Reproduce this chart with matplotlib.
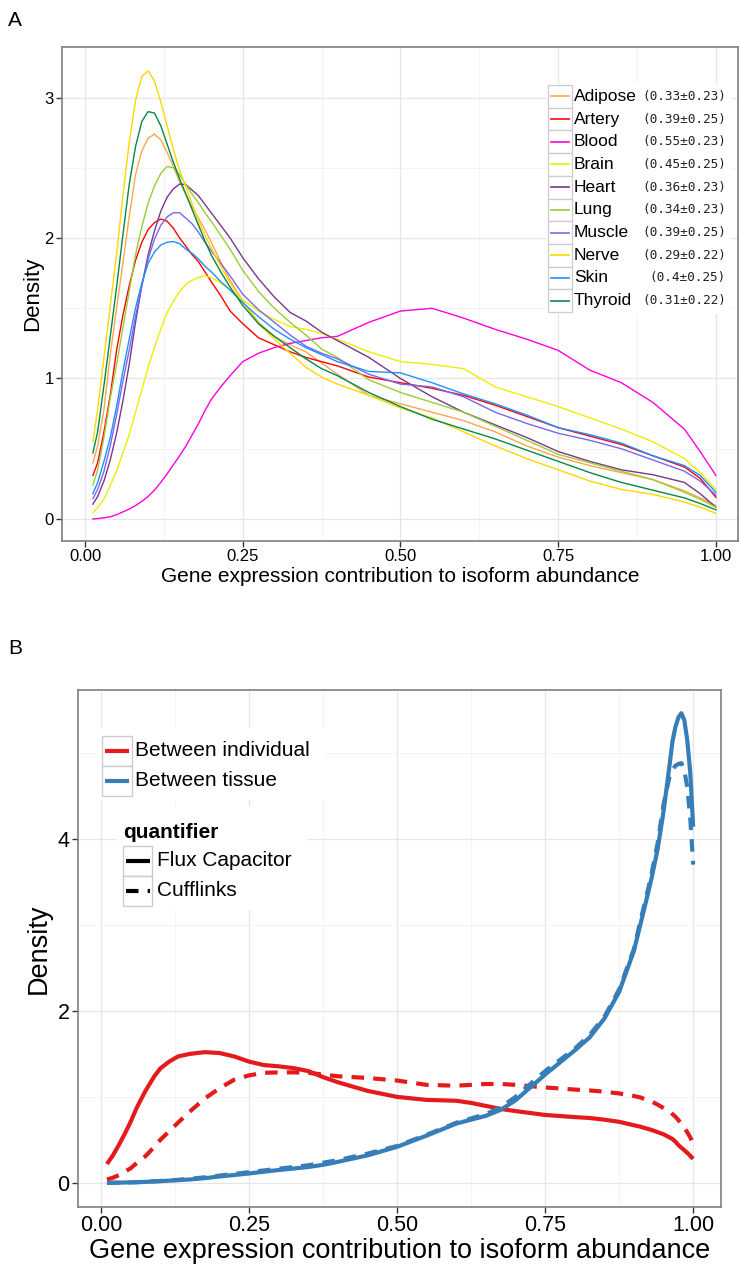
import numpy as np
import matplotlib
matplotlib.use('Agg')
import matplotlib.pyplot as plt
from matplotlib.patches import Rectangle
from matplotlib.lines import Line2D

plt.rcParams['font.family'] = ['Liberation Sans', 'DejaVu Sans']

W, H = 740, 1266

# ---- panel A: density of gene expression contribution per tissue ----
tissues = ['Adipose', 'Artery', 'Blood', 'Brain', 'Heart',
           'Lung', 'Muscle', 'Nerve', 'Skin', 'Thyroid']
tissue_colors = ['#FFA54F', '#FF0000', '#FF00DD', '#EEEE00', '#7A378B',
                 '#9ACD32', '#7A67EE', '#FFD700', '#1E90FF', '#008B45']
stats = ['(0.33±0.23)', '(0.39±0.25)', '(0.55±0.23)', '(0.45±0.25)',
         '(0.36±0.23)', '(0.34±0.23)', '(0.39±0.25)', '(0.29±0.22)',
         '(0.4±0.25)', '(0.31±0.22)']

x_a = np.array([0.0125, 0.02, 0.03, 0.04, 0.05, 0.06, 0.07, 0.08, 0.09, 0.1,
                0.11, 0.12, 0.13, 0.14, 0.15, 0.16, 0.17, 0.18, 0.19, 0.2,
                0.215, 0.23, 0.25, 0.275, 0.3, 0.325, 0.35, 0.375, 0.4, 0.45,
                0.5, 0.55, 0.6, 0.65, 0.7, 0.75, 0.8, 0.85, 0.9, 0.95,
                0.975, 1.0])

adipose = [.40, .52, .78, 1.17, 1.50, 1.82, 2.15, 2.45, 2.62, 2.71,
           2.74, 2.70, 2.61, 2.51, 2.40, 2.31, 2.22, 2.14, 2.06, 1.97,
           1.83, 1.70, 1.55, 1.40, 1.30, 1.24, 1.19, 1.11, 1.03, .88,
           .82, .76, .70, .62, .52, .44, .38, .33, .28, .20,
           .15, .095]
artery = [.31, .40, .62, .88, 1.20, 1.45, 1.66, 1.84, 1.97, 2.06,
          2.11, 2.135, 2.12, 2.07, 2.0, 1.94, 1.88, 1.83, 1.76, 1.69,
          1.59, 1.48, 1.39, 1.29, 1.24, 1.19, 1.15, 1.12, 1.09, 1.01,
          .97, .93, .88, .81, .73, .65, .59, .53, .45, .37,
          .29, .154]
blood = [0.0, .003, .008, .015, .03, .05, .07, .095, .125, .16,
         .205, .26, .32, .385, .45, .52, .60, .68, .77, .85,
         .94, 1.02, 1.12, 1.18, 1.22, 1.25, 1.27, 1.29, 1.30, 1.40,
         1.48, 1.50, 1.43, 1.35, 1.28, 1.20, 1.06, .97, .83, .64,
         .48, .31]
brain = [.045, .08, .14, .24, .34, .47, .60, .76, .92, 1.08,
         1.22, 1.35, 1.47, 1.55, 1.62, 1.67, 1.70, 1.72, 1.73, 1.72,
         1.68, 1.63, 1.56, 1.48, 1.42, 1.37, 1.35, 1.32, 1.28, 1.19,
         1.12, 1.10, 1.07, .94, .87, .80, .72, .64, .55, .43,
         .33, .21]
heart = [.105, .16, .27, .42, .61, .84, 1.10, 1.40, 1.66, 1.88,
         2.05, 2.19, 2.29, 2.35, 2.385, 2.38, 2.34, 2.30, 2.24, 2.18,
         2.09, 2.0, 1.86, 1.71, 1.58, 1.47, 1.41, 1.33, 1.27, 1.15,
         1.0, .87, .76, .67, .58, .48, .41, .35, .315, .26,
         .18, .083]
lung = [.24, .35, .58, .86, 1.10, 1.36, 1.62, 1.88, 2.08, 2.25,
        2.37, 2.46, 2.51, 2.50, 2.45, 2.38, 2.31, 2.25, 2.18, 2.12,
        2.02, 1.92, 1.77, 1.62, 1.50, 1.40, 1.31, 1.21, 1.15, .99,
        .90, .83, .76, .66, .56, .46, .40, .34, .28, .19,
        .14, .083]
muscle = [.145, .21, .34, .52, .74, .98, 1.20, 1.44, 1.66, 1.85,
          1.99, 2.09, 2.15, 2.18, 2.18, 2.14, 2.10, 2.04, 1.97, 1.91,
          1.82, 1.73, 1.60, 1.49, 1.40, 1.31, 1.23, 1.18, 1.14, 1.03,
          .96, .94, .87, .76, .68, .61, .56, .50, .42, .34,
          .27, .17]
nerve = [.55, .78, 1.15, 1.52, 1.88, 2.30, 2.68, 2.98, 3.15, 3.19,
         3.12, 2.97, 2.80, 2.63, 2.48, 2.36, 2.24, 2.12, 2.02, 1.93,
         1.80, 1.68, 1.55, 1.39, 1.28, 1.18, 1.08, 1.01, .96, .88,
         .79, .72, .62, .52, .43, .35, .27, .21, .175, .12,
         .085, .04]
skin = [.18, .26, .41, .58, .80, 1.05, 1.28, 1.50, 1.68, 1.82,
        1.90, 1.95, 1.97, 1.975, 1.96, 1.92, 1.89, 1.85, 1.80, 1.76,
        1.69, 1.63, 1.54, 1.44, 1.35, 1.28, 1.22, 1.17, 1.12, 1.05,
        1.04, .97, .89, .82, .74, .65, .60, .54, .45, .38,
        .31, .19]
thyroid = [.47, .62, .95, 1.30, 1.65, 2.02, 2.38, 2.65, 2.83, 2.90,
           2.89, 2.80, 2.67, 2.54, 2.42, 2.31, 2.20, 2.09, 1.98, 1.88,
           1.76, 1.65, 1.52, 1.39, 1.30, 1.22, 1.14, 1.07, 1.02, .90,
           .80, .71, .64, .57, .49, .41, .33, .26, .205, .15,
           .11, .065]

# ---- panel B: between individual vs between tissue ----
x_b = np.array([0.01, 0.02, 0.03, 0.04, 0.05, 0.06, 0.075, 0.09, 0.1, 0.115,
                0.13, 0.15, 0.175, 0.2, 0.225, 0.25, 0.275, 0.3, 0.325, 0.35,
                0.375, 0.4, 0.45, 0.5, 0.55, 0.6, 0.625, 0.65, 0.675, 0.7,
                0.75, 0.8, 0.825, 0.85, 0.875, 0.9, 0.91, 0.92, 0.93, 0.94,
                0.95, 0.96, 0.965, 0.97, 0.975, 0.98, 0.985, 0.99, 0.995, 1.0])
indiv_flux = [.22, .32, .44, .57, .71, .87, 1.07, 1.24, 1.33, 1.41,
              1.47, 1.50, 1.52, 1.51, 1.47, 1.41, 1.37, 1.355, 1.335, 1.30,
              1.23, 1.17, 1.07, 1.0, .965, .955, .93, .895, .86, .835,
              .79, .765, .755, .735, .71, .67, .655, .635, .615, .59,
              .565, .53, .51, .48, .44, .41, .38, .35, .315, .28]
indiv_cuff = [.04, .06, .09, .13, .17, .23, .31, .42, .50, .60,
              .70, .83, .98, 1.10, 1.20, 1.25, 1.28, 1.285, 1.285, 1.28,
              1.26, 1.24, 1.22, 1.19, 1.14, 1.13, 1.14, 1.15, 1.15, 1.14,
              1.11, 1.085, 1.075, 1.06, 1.04, 1.01, .995, .97, .945, .91,
              .87, .83, .80, .77, .73, .69, .64, .59, .53, .46]
tissue_flux = [0.0, .002, .003, .005, .006, .008, .012, .017, .02, .026,
               .032, .04, .055, .075, .092, .11, .13, .15, .167, .185,
               .21, .245, .32, .42, .55, .69, .735, .78, .85, .96,
               1.26, 1.54, 1.69, 1.91, 2.22, 2.70, 2.98, 3.26, 3.55, 3.88,
               4.32, 4.85, 5.13, 5.30, 5.41, 5.46, 5.38, 5.15, 4.78, 4.14]
tissue_cuff = [0.0, .002, .003, .005, .007, .009, .014, .019, .023, .03,
               .036, .048, .065, .085, .105, .125, .145, .165, .185, .205,
               .235, .265, .34, .43, .56, .70, .75, .80, .88, 1.0,
               1.3, 1.56, 1.72, 1.93, 2.25, 2.72, 3.02, 3.30, 3.60, 3.95,
               4.40, 4.72, 4.80, 4.85, 4.87, 4.88, 4.80, 4.60, 4.25, 3.70]

group_names = ['Between individual', 'Between tissue']
group_colors = ['#E41A1C', '#377EB8']
quant_names = ['Flux Capacitor', 'Cufflinks']

xticks = [0, 0.25, 0.5, 0.75, 1.0]
xtick_labels = ['0.00', '0.25', '0.50', '0.75', '1.00']
xminor = [0.125, 0.375, 0.625, 0.875]

DASH = (3.0, 2.2)


def fx(p):
    return p / W


def fy(p):
    return 1 - p / H


def add_axes_px(fig, left, top, right, bottom):
    return fig.add_axes([fx(left), fy(bottom), (right - left) / W, (bottom - top) / H])


def style_axes(ax, size):
    for s in ax.spines.values():
        s.set_color('#7f7f7f')
        s.set_linewidth(1.2)
    ax.grid(which='major', color='#e6e6e6', lw=0.9)
    ax.grid(which='minor', color='#f3f3f3', lw=0.7)
    ax.set_axisbelow(True)
    ax.tick_params(which='major', length=4, width=1.0, color='#333333',
                   labelsize=size, pad=2, labelcolor='black')
    ax.tick_params(which='minor', length=0)
    ax.set_xticks(xticks, labels=xtick_labels)
    ax.set_xticks(xminor, minor=True)


fig = plt.figure(figsize=(W / 100, H / 100), dpi=100)

# ---------------- panel A ----------------
ax_a = add_axes_px(fig, 62, 47, 738, 541)
series_a = [adipose, artery, blood, brain, heart, lung, muscle, nerve, skin, thyroid]
for name, col, ys in zip(tissues, tissue_colors, series_a):
    ax_a.plot(x_a, ys, color=col, lw=1.0, label=name)
ax_a.set_xlim(-0.0365, 1.035)
ax_a.set_ylim(-0.157, 3.36)
style_axes(ax_a, 12)
ax_a.set_yticks([0, 1, 2, 3])
ax_a.set_yticks([0.5, 1.5, 2.5], minor=True)
ax_a.set_xlabel('Gene expression contribution to isoform abundance', fontsize=15, labelpad=2)
ax_a.set_ylabel('Density', fontsize=16, labelpad=0.5)
fig.text(fx(8), fy(20), 'A', fontsize=15, va='center')

# legend A drawn by hand (boxed keys + stats column)
row_h = 22.7
top = 85
fig.add_artist(Rectangle((fx(546), fy(314)), 186 / W, 230 / H,
                         facecolor='white', edgecolor='none', zorder=2))
for i, (name, col, st) in enumerate(zip(tissues, tissue_colors, stats)):
    yc = top + (i + 0.5) * row_h
    fig.add_artist(Rectangle((fx(548), fy(top + (i + 1) * row_h)), 23.5 / W, row_h / H,
                             facecolor='white', edgecolor='#cccccc', lw=0.9, zorder=3))
    fig.add_artist(Line2D([fx(551), fx(569)], [fy(yc), fy(yc)], color=col, lw=1.2, zorder=4))
    fig.text(fx(574), fy(yc), name, fontsize=12.5, va='center', ha='left', zorder=4)
    fig.text(fx(726), fy(yc), st, fontsize=9.2, family='DejaVu Sans Mono',
             va='center', ha='right', zorder=4, color='#222222')

# ---------------- panel B ----------------
ax_b = add_axes_px(fig, 78, 690, 721, 1207)
ax_b.plot(x_b, indiv_flux, color=group_colors[0], lw=3.0, solid_capstyle='butt')
ax_b.plot(x_b, indiv_cuff, color=group_colors[0], lw=3.0, dashes=DASH, dash_capstyle='butt')
ax_b.plot(x_b, tissue_flux, color=group_colors[1], lw=3.0, solid_capstyle='butt')
ax_b.plot(x_b, tissue_cuff, color=group_colors[1], lw=3.0, dashes=DASH, dash_capstyle='butt')
ax_b.set_xlim(-0.0389, 1.047)
ax_b.set_ylim(-0.28, 5.73)
style_axes(ax_b, 15.5)
ax_b.set_yticks([0, 2, 4])
ax_b.set_yticks([1, 3, 5], minor=True)
ax_b.set_xlabel('Gene expression contribution to isoform abundance', fontsize=19.5, labelpad=1)
ax_b.set_ylabel('Density', fontsize=19.5, labelpad=4.4)
fig.text(fx(8), fy(648), 'B', fontsize=15, va='center')

# legend B: colour keys
fig.add_artist(Rectangle((fx(100), fy(800)), 224 / W, 72 / H,
                         facecolor='white', edgecolor='none', zorder=2))
key_h = 30
for i, (name, col) in enumerate(zip(group_names, group_colors)):
    y0 = 736 + i * key_h
    yc = y0 + key_h / 2
    fig.add_artist(Rectangle((fx(102), fy(y0 + key_h)), 30 / W, key_h / H,
                             facecolor='white', edgecolor='#cccccc', lw=1.0, zorder=3))
    fig.add_artist(Line2D([fx(105), fx(129)], [fy(yc), fy(yc)], color=col, lw=3.0,
                          solid_capstyle='butt', zorder=4))
    fig.text(fx(135), fy(yc), name, fontsize=15, va='center', ha='left', zorder=4)

# legend B: quantifier keys
fig.add_artist(Rectangle((fx(116), fy(910)), 192 / W, 104 / H,
                         facecolor='white', edgecolor='none', zorder=2))
fig.text(fx(123), fy(832), 'quantifier', fontsize=15, fontweight='bold',
         va='center', ha='left', zorder=4)
for i, name in enumerate(quant_names):
    y0 = 846 + i * key_h
    yc = y0 + key_h / 2
    fig.add_artist(Rectangle((fx(123), fy(y0 + key_h)), 29 / W, key_h / H,
                             facecolor='white', edgecolor='#cccccc', lw=1.0, zorder=3))
    ln = Line2D([fx(126), fx(150)], [fy(yc), fy(yc)], color='black', lw=3.0,
                solid_capstyle='butt', dash_capstyle='butt', zorder=4)
    if i == 1:
        ln.set_dashes(DASH)
    fig.add_artist(ln)
    fig.text(fx(157), fy(yc), name, fontsize=15, va='center', ha='left', zorder=4)

fig.savefig('out.png', dpi=100)
